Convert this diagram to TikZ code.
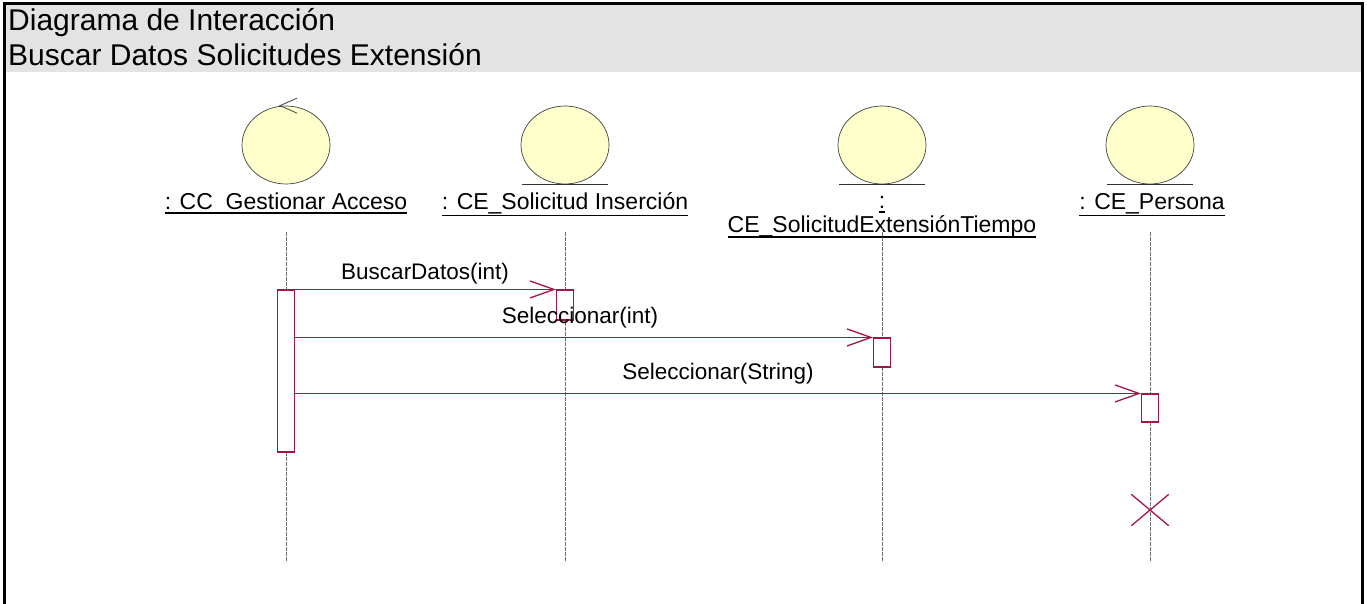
\documentclass[tikz,border=0pt]{standalone}
\usepackage{fontspec}
\setmainfont{Liberation Sans}
\usetikzlibrary{arrows.meta,shapes.geometric,shapes.misc}
\definecolor{msg}{RGB}{165,20,70}
\definecolor{objfill}{RGB}{255,255,204}
\definecolor{hdr}{RGB}{227,227,227}
\definecolor{lifegray}{RGB}{110,110,110}
\begin{document}
\begin{tikzpicture}[x=1pt,y=-1pt,
  obj/.style={ellipse, draw=black!75, fill=objfill, line width=0.7pt,
    minimum width=88pt, minimum height=78pt, inner sep=0pt},
  objlabel/.style={anchor=base, inner sep=0pt, font=\fontsize{23}{27}\selectfont},
  msglabel/.style={anchor=base, inner sep=0pt, font=\fontsize{22.5}{26}\selectfont},
  titletext/.style={anchor=base west, inner sep=0pt, font=\fontsize{30}{34}\selectfont},
  uline/.style={line width=1.2pt, black},
  life/.style={draw=lifegray, line width=1pt, dash pattern=on 4pt off 1pt},
  actbox/.style={rectangle, draw=msg, fill=white, line width=1.1pt,
    minimum width=17pt, inner sep=0pt},
  msgline/.style={draw=msg, line width=1.1pt,
    -{Straight Barb[length=24pt,width=17pt,line width=1.3pt]}},
  destroy/.style={cross out, draw=msg, line width=1.3pt,
    minimum width=36pt, minimum height=30pt, inner sep=0pt},
  frame/.style={line width=3pt, black}
]
\useasboundingbox (0,0) rectangle (1367,604);
% header
\fill[hdr] (5,5) rectangle (1361,72);
\draw[frame] (4,604) -- (4,3.5) -- (1362.5,3.5) -- (1362.5,604);
\node[titletext] (t1) at (8,31) {Diagrama de Interacción};
\node[titletext] (t2) at (8,66) {Buscar Datos Solicitudes Extensión};

% objects
\node[obj] (o1) at (286,145) {};
\node[obj] (o2) at (565,145) {};
\node[obj] (o3) at (882,145) {};
\node[obj] (o4) at (1150,145) {};
% control arrow
\draw[black!75, line width=0.8pt] ([shift={(11,-7.5)}]o1.north) -- ([xshift=-6pt]o1.north) -- ([shift={(11,7.5)}]o1.north);
% entity underlines
\foreach \o in {o2,o3,o4}
  \draw[black!80, line width=1pt] ([xshift=-43pt]\o.south) -- ([xshift=43pt]\o.south);

% object labels
\node[objlabel] (n1) at (286,209) {: CC\_Gestionar Acceso};
\node[objlabel] (n2) at (565,209) {: CE\_Solicitud Inserción};
\node[objlabel] (n3a) at (882,208) {:};
\node[objlabel] (n3b) at (882,233) {CE\_SolicitudExtensiónTiempo};
\node[objlabel] (n4) at (1152,209) {: CE\_Persona};
\draw[uline] ([yshift=-4pt]n1.base west) -- ([yshift=-4pt]n1.base east);
\draw[uline] ([yshift=-6.5pt]n2.base west) -- ([yshift=-6.5pt]n2.base east);
\draw[uline] ([yshift=-4pt]n3a.base west) -- ([yshift=-4pt]n3a.base east);
\draw[uline] ([yshift=-4pt]n3b.base west) -- ([yshift=-4pt]n3b.base east);
\draw[uline] ([yshift=-6.5pt]n4.base west) -- ([yshift=-6.5pt]n4.base east);

% lifelines
\coordinate (l1t) at (286,232); \coordinate (l1b) at (286,562);
\coordinate (l2t) at (565,232); \coordinate (l2b) at (565,562);
\coordinate (l3t) at (882,227); \coordinate (l3b) at (882,562);
\coordinate (l4t) at (1150,232); \coordinate (l4b) at (1150,562);
\draw[life] (l1t) -- (l1b);
\draw[life] (l2t) -- (l2b);
\draw[life] (l3t) -- (l3b);
\draw[life] (l4t) -- (l4b);

% activations
\node[actbox, minimum height=162pt] (a1) at (286,371) {};
\node[actbox, minimum height=30pt] (a2) at (565,305) {};
\node[actbox, minimum height=29pt] (a3) at (882,352.5) {};
\node[actbox, minimum height=28pt] (a4) at (1150,408) {};

% messages
\draw[msgline] (a1.north east) -- (a2.north west);
\draw[msgline] (a1.east |- a3.north) -- (a3.north west);
\draw[msgline] (a1.east |- a4.north) -- (a4.north west);
\node[msglabel] (m1) at (425,279) {BuscarDatos(int)};
\node[msglabel] (m2) at (580,323) {Seleccionar(int)};
\node[msglabel] (m3) at (718,379) {Seleccionar(String)};

% destruction
\node[destroy] (x4) at (1150,510) {};
\end{tikzpicture}
\end{document}
